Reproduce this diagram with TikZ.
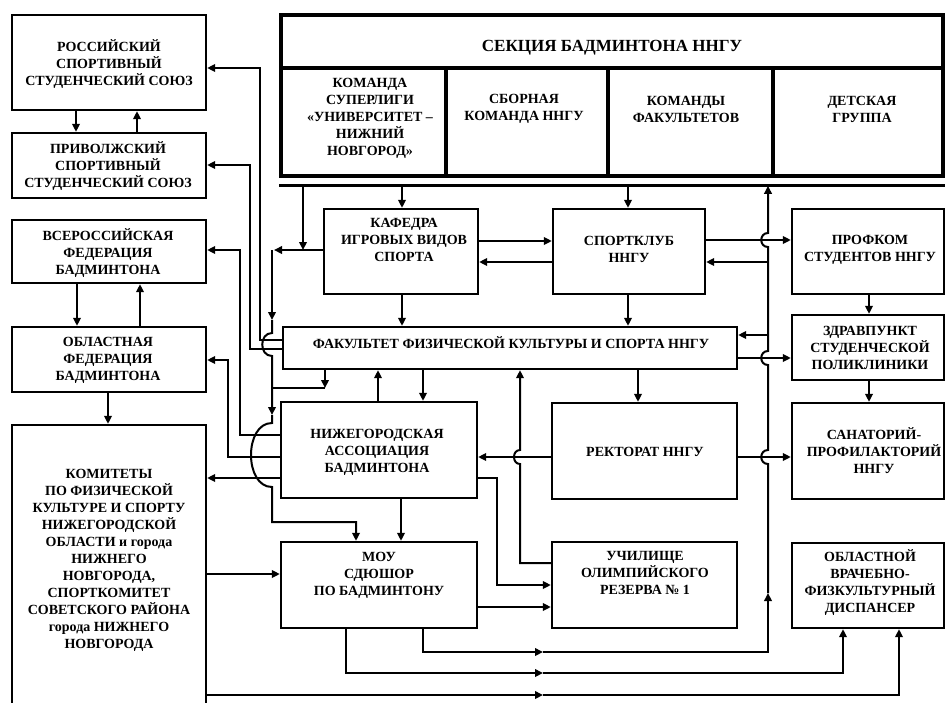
\documentclass[tikz,border=0pt]{standalone}
\usepackage{fontspec}
\setmainfont{Liberation Serif}
\usetikzlibrary{arrows.meta}
\newcommand\bx[6][]{\node[box,#1,minimum width={(#5)-(#3)},minimum height={(#6)-(#4)}] (#2) at ({((#3)+(#5))/2},{((#4)+(#6))/2}) {};}
\begin{document}
\begin{tikzpicture}[x=1pt,y=-1pt,
 box/.style={draw,line width=2.3pt,inner sep=0pt},
 txt/.style={align=center,inner sep=0pt,font=\bfseries\fontsize{14}{17}\selectfont},
 con/.style={line width=2pt},
 arr/.style={con,-{Triangle[length=8pt,width=7.5pt]}},
]
\useasboundingbox (0,0) rectangle (947,702);
\fill[white] (0,0) rectangle (947,702);
\clip (0,0) rectangle (947,702);
% ---------- boxes ----------
\bx{A}{12}{15}{206}{110}
\bx{B}{12}{133}{206}{198}
\bx{C}{12}{220}{206}{283}
\bx{D}{12}{327}{206}{392}
\bx{E}{12}{425}{206}{712}
\bx[line width=3.2pt]{S1}{281}{68}{446}{176}
\bx[line width=3.2pt]{S2}{446}{68}{608}{176}
\bx[line width=3.2pt]{S3}{608}{68}{773}{176}
\bx[line width=3.2pt]{S4}{773}{68}{943}{176}
\bx[line width=3.6pt]{S}{281}{15}{943}{176}
\draw[line width=3pt] ([yshift=-8pt]S.south west) coordinate (dl) -- ([yshift=-8pt]S.south east);
\bx{K}{324}{209}{478}{294}
\bx{Sp}{553}{209}{705}{294}
\bx{P}{792}{209}{944}{294}
\bx{F}{283}{327}{737}{369}
\bx{Z}{792}{315}{944}{380}
\bx{N}{281}{402}{477}{498}
\bx{R}{552}{403}{737}{499}
\bx{San}{792}{403}{944}{499}
\bx{M}{281}{542}{477}{628}
\bx{U}{552}{542}{737}{628}
\bx{Di}{792}{543}{944}{628}
% ---------- texts ----------
\node[txt] (At) at (109,64) {РОССИЙСКИЙ\\СПОРТИВНЫЙ\\СТУДЕНЧЕСКИЙ СОЮЗ};
\node[txt] (Bt) at (108,166) {ПРИВОЛЖСКИЙ\\СПОРТИВНЫЙ\\СТУДЕНЧЕСКИЙ СОЮЗ};
\node[txt] (Ct) at (108,253) {ВСЕРОССИЙСКАЯ\\ФЕДЕРАЦИЯ\\БАДМИНТОНА};
\node[txt] (Dt) at (108,360) {ОБЛАСТНАЯ\\ФЕДЕРАЦИЯ\\БАДМИНТОНА};
\node[txt] (Et) at (109,560) {КОМИТЕТЫ\\ПО ФИЗИЧЕСКОЙ\\КУЛЬТУРЕ И СПОРТУ\\НИЖЕГОРОДСКОЙ\\ОБЛАСТИ и города\\НИЖНЕГО\\НОВГОРОДА,\\СПОРТКОМИТЕТ\\СОВЕТСКОГО РАЙОНА\\города НИЖНЕГО\\НОВГОРОДА};
\node[txt,font=\bfseries\fontsize{17}{20}\selectfont] (St) at (612,48) {СЕКЦИЯ БАДМИНТОНА ННГУ};
\node[txt] (S1t) at (370,118) {КОМАНДА\\СУПЕРЛИГИ\\«УНИВЕРСИТЕТ –\\НИЖНИЙ\\НОВГОРОД»};
\node[txt] (S2t) at (524,109) {СБОРНАЯ\\КОМАНДА ННГУ};
\node[txt] (S3t) at (686,109) {КОМАНДЫ\\ФАКУЛЬТЕТОВ};
\node[txt] (S4t) at (862,109) {ДЕТСКАЯ\\ГРУППА};
\node[txt] (Kt) at (404,240) {КАФЕДРА\\ИГРОВЫХ ВИДОВ\\СПОРТА};
\node[txt] (Spt) at (629,249) {СПОРТКЛУБ\\ННГУ};
\node[txt] (Pt) at (870,250) {ПРОФКОМ\\СТУДЕНТОВ ННГУ};
\node[txt] (Ft) at (511,343) {ФАКУЛЬТЕТ ФИЗИЧЕСКОЙ КУЛЬТУРЫ И СПОРТА ННГУ};
\node[txt] (Zt) at (870,348) {ЗДРАВПУНКТ\\СТУДЕНЧЕСКОЙ\\ПОЛИКЛИНИКИ};
\node[txt] (Nt) at (377,452) {НИЖЕГОРОДСКАЯ\\АССОЦИАЦИЯ\\БАДМИНТОНА};
\node[txt] (Rt) at (645,452) {РЕКТОРАТ ННГУ};
\node[txt] (Sant) at (874,451) {САНАТОРИЙ-\\ПРОФИЛАКТОРИЙ\\ННГУ};
\node[txt] (Mt) at (379,575) {МОУ\\СДЮШОР\\ПО БАДМИНТОНУ};
\node[txt] (Ut) at (645,573) {УЧИЛИЩЕ\\ОЛИМПИЙСКОГО\\РЕЗЕРВА № 1};
\node[txt] (Dit) at (870,583) {ОБЛАСТНОЙ\\ВРАЧЕБНО-\\ФИЗКУЛЬТУРНЫЙ\\ДИСПАНСЕР};
% ---------- left column ----------
\draw[arr] (A.south -| 76,0) -- (B.north -| 76,0);
\draw[arr] (B.north -| 137,0) -- (A.south -| 137,0);
\draw[arr] (C.south -| 77,0) -- (D.north -| 77,0);
\draw[arr] (D.north -| 140,0) -- (C.south -| 140,0);
\draw[arr] (D.south -| 108,0) -- (E.north -| 108,0);
\draw[arr] (F.west |- 0,340) -- (260,340) -- (260,68) -- (A.east |- 0,68);
\draw[arr] (F.west |- 0,349) -- (250,349) -- (250,165) -- (B.east |- 0,165);
\draw[arr] (N.west |- 0,435) -- (240,435) -- (240,250) -- (C.east |- 0,250);
\draw[arr] (N.west |- 0,457) -- (228,457) -- (228,360) -- (D.east |- 0,360);
\draw[arr] (N.west |- 0,478) -- (E.east |- 0,478);
\draw[arr] (E.east |- 0,574) -- (M.west |- 0,574);
\coordinate (m3) at (543,695);
\draw[arr] (E.east |- m3) -- (m3);
\draw[arr] (m3) -- (899,695) -- (Di.south -| 899,0);
% ---------- section links ----------
\draw[arr] (dl -| 402,0) -- (K.north -| 402,0);
\draw[arr] (dl -| 628,0) -- (Sp.north -| 628,0);
\draw[arr] (dl -| 303,0) -- (303,250);
\draw[arr] (K.west |- 0,250) -- (274,250);
\coordinate (b1) at (272,250);
\draw[arr] (b1) -- (272,320);
\draw[arr] (272,320) -- (272,333) .. controls (259,333) and (259,356) .. (272,356) -- (272,415);
\draw[arr] (272,415) -- (272,423) .. controls (244,423) and (244,487) .. (272,487) -- (272,522) -- (356,522) -- (M.north -| 356,0);
\draw[arr] (F.south -| 325,0) -- (325,388);
\draw[con] (325,388) -- (b1 |- 0,388);
% ---------- middle ----------
\draw[arr] (K.east |- 0,241) -- (Sp.west |- 0,241);
\draw[arr] (Sp.west |- 0,262) -- (K.east |- 0,262);
\draw[arr] (K.south -| 402,0) -- (F.north -| 402,0);
\draw[arr] (Sp.south -| 628,0) -- (F.north -| 628,0);
\draw[arr] (Sp.east |- 0,240) -- (P.west |- 0,240);
\draw[arr] (P.south -| 869,0) -- (Z.north -| 869,0);
\draw[arr] (Z.south -| 869,0) -- (San.north -| 869,0);
\draw[arr] (F.east |- 0,358) -- (Z.west |- 0,358);
\draw[arr] (F.south -| 638,0) -- (R.north -| 638,0);
\draw[arr] (R.east |- 0,457) -- (San.west |- 0,457);
\draw[arr] (R.west |- 0,457) -- (N.east |- 0,457);
\draw[arr] (U.west |- 0,563) -- (520,563) -- (520,464) .. controls (512,464) and (512,450) .. (520,450) -- (F.south -| 520,0);
\draw[arr] (N.north -| 378,0) -- (F.south -| 378,0);
\draw[arr] (F.south -| 423,0) -- (N.north -| 423,0);
\draw[arr] (N.east |- 0,478) -- (497,478) -- (497,585) -- (U.west |- 0,585);
\draw[arr] (N.south -| 401,0) -- (M.north -| 401,0);
\draw[arr] (M.east |- 0,607) -- (U.west |- 0,607);
% ---------- bus x=768 ----------
\coordinate (m1) at (543,652);
\coordinate (v1) at (768,593);
\draw[arr] (M.south -| 423,0) -- (423,652) -- (m1);
\draw[arr] (m1) -- (768,652) -- (v1);
\draw[arr] (v1) -- (768,464) .. controls (759,464) and (759,450) .. (768,450)
  -- (768,365) .. controls (759,365) and (759,351) .. (768,351)
  -- (768,247) .. controls (759,247) and (759,233) .. (768,233) -- (dl -| 768,0);
\draw[arr] (768,262) -- (Sp.east |- 0,262);
\draw[arr] (768,335) -- (F.east |- 0,335);
\coordinate (m2) at (543,673);
\draw[arr] (M.south -| 346,0) -- (346,673) -- (m2);
\draw[arr] (m2) -- (843,673) -- (Di.south -| 843,0);
\end{tikzpicture}
\end{document}
